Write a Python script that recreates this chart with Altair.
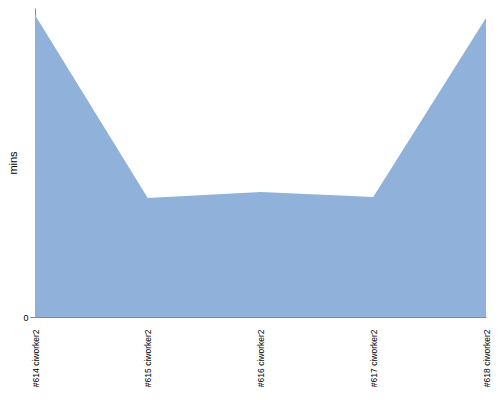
import altair as alt
import pandas as pd

builds = ["#614 ciworker2", "#615 ciworker2", "#616 ciworker2", "#617 ciworker2", "#618 ciworker2"]
mins = [302, 119, 125, 120, 299]

df = pd.DataFrame({"build": builds, "mins": mins})

chart = alt.Chart(df).mark_area(color="#8fb1da", opacity=1, line=False).encode(
    x=alt.X("build:N", sort=builds, scale=alt.Scale(type="point", padding=0),
            axis=alt.Axis(title=None, labelAngle=270, labelAlign="right", labelBaseline="middle",
                          labelFontSize=8.5, labelFont="Liberation Sans", labelColor="#000",
                          ticks=False, labelPadding=12, domainColor="#888", grid=False)),
    y=alt.Y("mins:Q", scale=alt.Scale(domain=[0, 309], nice=False),
            axis=alt.Axis(title="mins", values=[0], grid=False, labelFontSize=9, labelColor="#000",
                          labelFont="Liberation Sans", titleFont="Liberation Sans", titleFontSize=11,
                          titleFontWeight="normal", titleColor="#000", domainColor="#888",
                          tickColor="#888", tickSize=5, titlePadding=4)),
).properties(width=451, height=309, padding={"left": 27, "top": 0, "right": 6, "bottom": 75},
             autosize=alt.AutoSizeParams(type="none")).configure_view(stroke=None)

chart.save("out.html", embed_options={"renderer": "svg", "actions": False})
